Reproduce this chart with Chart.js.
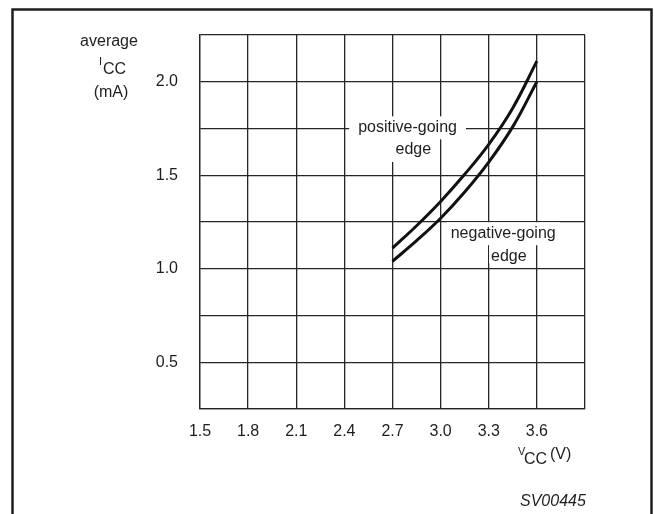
<!DOCTYPE html>
<html>
<head>
<meta charset="utf-8">
<script src="https://cdn.jsdelivr.net/npm/chart.js@4.4.1/dist/chart.umd.min.js"></script>
<style>
  html, body { margin: 0; padding: 0; background: #fff; }
  #wrap { width: 654px; height: 514px; }
</style>
</head>
<body>
<div id="wrap"><canvas id="iccChart"></canvas></div>
<script>
// ticks
var xTicks = [1.5, 1.8, 2.1, 2.4, 2.7, 3.0, 3.3, 3.6, 3.9];
var xTickLabels = ['1.5', '1.8', '2.1', '2.4', '2.7', '3.0', '3.3', '3.6', ''];
var yTicks = [0.25, 0.5, 0.75, 1.0, 1.25, 1.5, 1.75, 2.0, 2.25];
var yTickLabels = ['', '0.5', '', '1.0', '', '1.5', '', '2.0', ''];

// series (Vcc in V, Icc in mA)
var vcc = [2.7, 2.85, 3.0, 3.15, 3.3, 3.45, 3.6];
var positiveGoing = [1.11, 1.23, 1.36, 1.505, 1.665, 1.86, 2.11];
var negativeGoing = [1.04, 1.15, 1.27, 1.41, 1.57, 1.76, 2.0];

var ink = '#1e1e1e';
var font = '"Liberation Sans", Arial, Helvetica, sans-serif';

function toPoints(xs, ys) {
  return xs.map(function (x, i) { return { x: x, y: ys[i] }; });
}

// curve labels, placed in data units; white box behind each
var notes = [
  { text: 'positive-going', x: 2.794, y: 1.756, padX: 9, below: 12 },
  { text: 'edge', x: 2.83, y: 1.635, padX: 4, below: 12 },
  { text: 'negative-going', x: 3.39, y: 1.19, padX: 4, below: 12 },
  { text: 'edge', x: 3.425, y: 1.066, padX: 2, below: 7 }
];

var notesPlugin = {
  id: 'notes',
  beforeDatasetsDraw: function (chart) {
    var ctx = chart.ctx;
    var xs = chart.scales.x, ys = chart.scales.y;
    ctx.save();
    ctx.font = '16px ' + font;
    ctx.textAlign = 'center';
    ctx.textBaseline = 'middle';
    notes.forEach(function (n) {
      var px = xs.getPixelForValue(n.x);
      var py = ys.getPixelForValue(n.y);
      var w = ctx.measureText(n.text).width;
      ctx.fillStyle = '#fff';
      ctx.fillRect(px - w / 2 - n.padX, py - 11, w + 2 * n.padX, 11 + n.below);
      ctx.fillStyle = ink;
      ctx.fillText(n.text, px, py);
    });
    ctx.restore();
  }
};

var framePlugin = {
  id: 'frame',
  afterDraw: function (chart) {
    var ctx = chart.ctx;
    ctx.save();
    // outer frame (open at the bottom)
    ctx.strokeStyle = ink;
    ctx.lineWidth = 2.5;
    ctx.beginPath();
    ctx.moveTo(12.5, 520);
    ctx.lineTo(12.5, 9.5);
    ctx.lineTo(651.5, 9.5);
    ctx.lineTo(651.5, 520);
    ctx.stroke();

    ctx.fillStyle = ink;
    ctx.textBaseline = 'alphabetic';
    // y axis title
    ctx.textAlign = 'center';
    ctx.font = '16px ' + font;
    ctx.fillText('average', 109, 46);
    ctx.fillText('(mA)', 111, 97);
    ctx.textAlign = 'left';
    ctx.font = '11px ' + font;
    ctx.fillText('I', 99, 65);
    ctx.font = '16px ' + font;
    ctx.fillText('CC', 103, 74);
    // x axis title
    ctx.font = '11px ' + font;
    ctx.fillText('V', 518, 455);
    ctx.font = '16px ' + font;
    ctx.fillText('CC', 524, 464);
    ctx.font = '16px ' + font;
    ctx.fillText('(V)', 550, 459);
    // figure code
    ctx.font = 'italic 16px ' + font;
    ctx.fillText('SV00445', 520, 506);
    ctx.restore();
  }
};

var ctx = document.getElementById('iccChart');
var iccChart = new Chart(ctx, {
  type: 'line',
  data: {
    datasets: [
      {
        label: 'positive-going edge',
        data: toPoints(vcc, positiveGoing),
        borderColor: '#111',
        borderWidth: 3,
        pointRadius: 0,
        fill: false,
        tension: 0.4
      },
      {
        label: 'negative-going edge',
        data: toPoints(vcc, negativeGoing),
        borderColor: '#111',
        borderWidth: 3,
        pointRadius: 0,
        fill: false,
        tension: 0.4
      }
    ]
  },
  options: {
    responsive: true,
    maintainAspectRatio: false,
    animation: false,
    events: [],
    layout: { padding: { left: 0, top: 35, right: 69, bottom: 65 } },
    plugins: {
      legend: { display: false },
      tooltip: { enabled: false }
    },
    scales: {
      x: {
        type: 'linear',
        min: 1.5,
        max: 3.9,
        afterBuildTicks: function (scale) {
          scale.ticks = xTicks.map(function (v) { return { value: v }; });
        },
        afterFit: function (scale) { scale.height = 40; },
        grid: { color: '#262626', lineWidth: 1.3, drawTicks: false },
        border: { color: '#262626', width: 1.3 },
        ticks: {
          padding: 13,
          color: ink,
          font: { family: font, size: 16 },
          maxRotation: 0,
          autoSkip: false,
          callback: function (v, i) { return xTickLabels[i]; }
        }
      },
      y: {
        type: 'linear',
        min: 0.25,
        max: 2.25,
        afterBuildTicks: function (scale) {
          scale.ticks = yTicks.map(function (v) { return { value: v }; });
        },
        afterFit: function (scale) { scale.width = 200; },
        grid: { color: '#262626', lineWidth: 1.3, drawTicks: false },
        border: { color: '#262626', width: 1.3 },
        ticks: {
          padding: 22,
          color: ink,
          font: { family: font, size: 16 },
          autoSkip: false,
          callback: function (v, i) { return yTickLabels[i]; }
        }
      }
    }
  },
  plugins: [notesPlugin, framePlugin]
});
</script>
</body>
</html>
